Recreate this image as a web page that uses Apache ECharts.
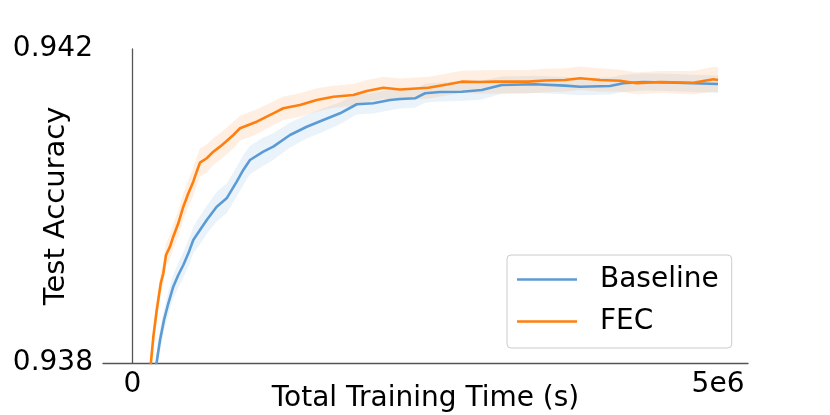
<!DOCTYPE html>
<html>
<head>
<meta charset="utf-8">
<script src="https://cdn.jsdelivr.net/npm/echarts@6/dist/echarts.min.js"></script>
<style>html,body{margin:0;padding:0;background:#fff}#c{width:830px;height:415px}</style>
</head>
<body>
<div id="c"></div>
<script>
// Training time in seconds
const baselineTime = [0.196e6,0.207e6,0.235e6,0.269e6,0.306e6,0.348e6,0.391e6,0.434e6,0.477e6,0.519e6,
  0.576e6,0.634e6,0.719e6,0.804e6,0.890e6,0.946e6,1.003e6,1.117e6,1.202e6,1.345e6,
  1.488e6,1.629e6,1.772e6,1.915e6,2.056e6,2.199e6,2.284e6,2.412e6,2.498e6,2.626e6,
  2.811e6,2.982e6,3.153e6,3.437e6,3.693e6,3.822e6,4.078e6,4.191e6,4.362e6,4.647e6,
  4.789e6,5.000e6];
const baselineAcc = [0.937911,0.938017,0.938293,0.938548,0.938761,0.938972,0.939121,0.939248,0.939397,0.939567,
  0.939694,0.939822,0.939991,0.940098,0.940310,0.940459,0.940586,0.940692,0.940756,0.940904,
  0.941010,0.941096,0.941181,0.941296,0.941308,0.941350,0.941363,0.941372,0.941436,0.941452,
  0.941456,0.941478,0.941541,0.941550,0.941533,0.941520,0.941529,0.941563,0.941580,0.941571,
  0.941563,0.941554];
const baselineSpread = [0.00013,0.00013,0.00014,0.00014,0.00015,0.00015,0.00016,0.00016,0.00017,0.00017,
  0.00018,0.00018,0.00019,0.00019,0.00019,0.00019,0.00018,0.00018,0.00017,0.00016,
  0.00015,0.00015,0.00014,0.00013,0.00013,0.00013,0.00012,0.00012,0.00012,0.00012,
  0.00012,0.00012,0.00011,0.00011,0.00011,0.00011,0.00011,0.00011,0.00011,0.00011,
  0.00011,0.00011];

const fecTime = [0.145e6,0.158e6,0.178e6,0.207e6,0.241e6,0.263e6,0.286e6,0.320e6,0.348e6,0.391e6,
  0.434e6,0.477e6,0.519e6,0.548e6,0.576e6,0.634e6,0.690e6,0.747e6,0.804e6,0.861e6,
  0.918e6,1.061e6,1.202e6,1.288e6,1.430e6,1.573e6,1.715e6,1.886e6,2.000e6,2.142e6,
  2.284e6,2.526e6,2.697e6,2.811e6,2.968e6,3.096e6,3.380e6,3.523e6,3.693e6,3.822e6,
  3.992e6,4.163e6,4.306e6,4.505e6,4.789e6,4.960e6,5.000e6];
const fecAcc = [0.937885,0.938017,0.938335,0.938675,0.939015,0.939143,0.939376,0.939482,0.939609,0.939780,
  0.939991,0.940162,0.940310,0.940437,0.940552,0.940608,0.940692,0.940756,0.940828,0.940904,
  0.940990,0.941074,0.941181,0.941245,0.941287,0.941350,0.941392,0.941414,0.941465,0.941507,
  0.941484,0.941507,0.941550,0.941584,0.941580,0.941584,0.941584,0.941599,0.941605,0.941627,
  0.941605,0.941596,0.941563,0.941580,0.941571,0.941614,0.941605];
const fecSpread = [0.00012,0.00012,0.00013,0.00013,0.00014,0.00014,0.00015,0.00015,0.00016,0.00016,
  0.00017,0.00017,0.00018,0.00018,0.00018,0.00018,0.00017,0.00017,0.00017,0.00017,
  0.00016,0.00016,0.00015,0.00015,0.00015,0.00015,0.00014,0.00014,0.00014,0.00014,
  0.00014,0.00014,0.00014,0.00014,0.00015,0.00015,0.00015,0.00015,0.00015,0.00015,
  0.00015,0.00014,0.00014,0.00014,0.00015,0.00016,0.00016];

const xTicks = [0, 5e6];
const xTickLabels = ['0', '5e6'];
const yTicks = [0.938, 0.942];
const yTickLabels = ['0.938', '0.942'];
const seriesNames = ['Baseline', 'FEC'];

const FONT = 'DejaVu Sans';
const BLUE = '#5b9bd5';
const ORANGE = '#ff7f0e';

function bandSeries(name, t, acc, spread, fill) {
  const rows = t.map((x, i) => [x, acc[i] - spread[i], acc[i] + spread[i]]);
  return {
    name: name + ' band', type: 'custom', silent: true, clip: true, z: 1,
    data: [0],
    renderItem: function (params, api) {
      const up = rows.map(r => api.coord([r[0], r[2]]));
      const lo = rows.map(r => api.coord([r[0], r[1]])).reverse();
      return { type: 'polygon', shape: { points: up.concat(lo) }, style: { fill: fill } };
    }
  };
}

const chart = echarts.init(document.getElementById('c'), null, { renderer: 'canvas' });
chart.setOption({
  animation: false,
  backgroundColor: '#ffffff',
  textStyle: { fontFamily: FONT },
  grid: { left: 103, right: 82, top: 49, bottom: 52, containLabel: false, outerBoundsMode: 'none' },
  xAxis: {
    type: 'value', min: -0.252e6, max: 5.256e6,
    name: 'Total Training Time (s)', nameLocation: 'middle', nameGap: 22, nameMoveOverlap: false,
    nameTextStyle: { fontFamily: FONT, fontSize: 28, color: '#000' },
    axisLine: { show: true, lineStyle: { color: '#555', width: 1.3 } },
    axisTick: { show: false },
    splitLine: { show: false },
    axisLabel: { customValues: xTicks, fontFamily: FONT, fontSize: 28, color: '#000', margin: 8,
      formatter: v => xTickLabels[xTicks.indexOf(v)] }
  },
  yAxis: {
    type: 'value', min: 0.938, max: 0.942,
    name: 'Test Accuracy', nameLocation: 'middle', nameGap: 32, nameRotate: 90, nameMoveOverlap: false,
    nameTextStyle: { fontFamily: FONT, fontSize: 29, color: '#000' },
    axisLine: { show: true, lineStyle: { color: '#555', width: 1.3 } },
    axisTick: { show: false },
    splitLine: { show: false },
    axisLabel: { customValues: yTicks, fontFamily: FONT, fontSize: 28, color: '#000', margin: 10,
      formatter: v => yTickLabels[yTicks.indexOf(v)] }
  },
  legend: {
    data: seriesNames, orient: 'vertical', left: 507, top: 255,
    icon: 'rect', itemWidth: 60, itemHeight: 2.5, itemGap: 11,
    padding: [9, 13, 11, 10],
    backgroundColor: 'rgba(255,255,255,0.8)', borderColor: '#cccccc', borderWidth: 1, borderRadius: 4,
    textStyle: { fontFamily: FONT, fontSize: 28, color: '#000', lineHeight: 31, padding: [0, 0, 0, 18] }
  },
  series: [
    bandSeries('Baseline', baselineTime, baselineAcc, baselineSpread, 'rgba(91,155,213,0.12)'),
    bandSeries('FEC', fecTime, fecAcc, fecSpread, 'rgba(255,127,14,0.12)'),
    { name: 'Baseline', type: 'line', data: baselineTime.map((x, i) => [x, baselineAcc[i]]), symbol: 'none',
      color: BLUE, itemStyle: { color: BLUE }, lineStyle: { color: BLUE, width: 2.6 }, z: 3 },
    { name: 'FEC', type: 'line', data: fecTime.map((x, i) => [x, fecAcc[i]]), symbol: 'none',
      color: ORANGE, itemStyle: { color: ORANGE }, lineStyle: { color: ORANGE, width: 2.6 }, z: 4 }
  ]
});
</script>
</body>
</html>
